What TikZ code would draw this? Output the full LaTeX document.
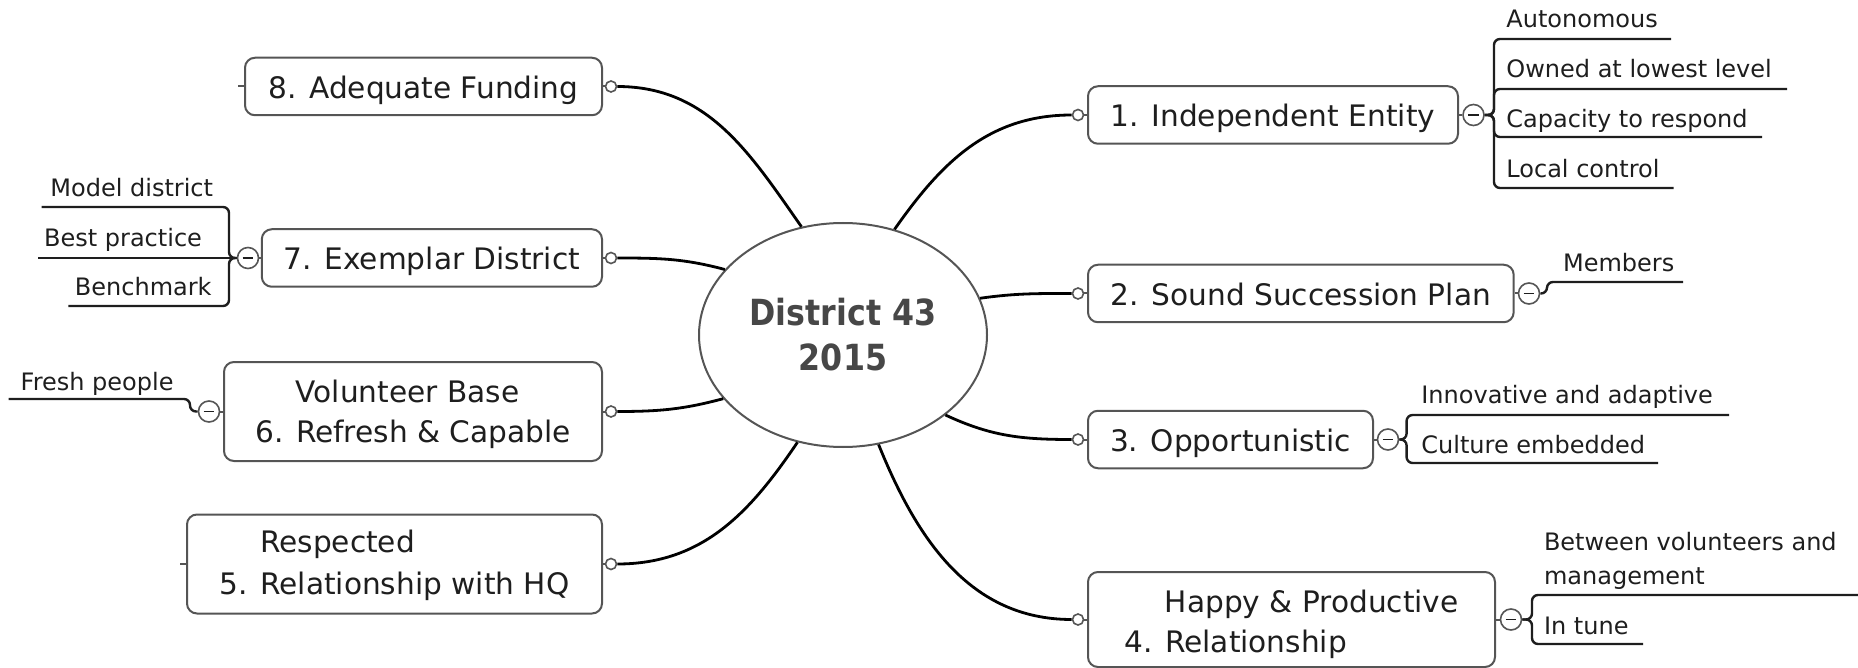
\documentclass[tikz,border=0pt]{standalone}
\usepackage{fontspec}
\setmainfont{DejaVu Sans}
\newfontfamily\hubfont{DejaVu Sans}[FakeStretch=0.88]
\usetikzlibrary{shapes.geometric}
\definecolor{ink}{HTML}{1E1E1E}
\definecolor{frame}{HTML}{555555}
\definecolor{hubtext}{HTML}{474747}

\begin{document}
\begin{tikzpicture}[x=0.5pt,y=0.5pt,
  conn/.style={line width=1.4pt, draw=black},
  sub/.style={line width=1.2pt, draw=ink, rounded corners=3pt},
  stub/.style={line width=1pt, draw=frame},
  mainbox/.style={draw=frame, line width=1pt, rounded corners=5pt, fill=white, text=ink,
     font=\fontsize{14.8pt}{20pt}\selectfont, inner xsep=11pt, inner ysep=0pt,
     minimum height=28.75pt, text height=12pt, text depth=0pt},
  twobox/.style={draw=frame, line width=1pt, rounded corners=5pt, fill=white, text=ink,
     font=\fontsize{14.8pt}{20pt}\selectfont, inner xsep=15.5pt, inner ysep=0pt,
     minimum height=49.5pt, align=left},
  knob/.style={circle, draw=frame, fill=white, line width=0.8pt, minimum size=5.5pt, inner sep=0pt},
  fold/.style={circle, draw=frame, fill=white, line width=0.8pt, minimum size=10.5pt, inner sep=0pt,
     path picture={\draw[line width=0.8pt, draw=ink]
       ([xshift=-2.7pt]path picture bounding box.center) -- ([xshift=2.7pt]path picture bounding box.center);}},
  leaf/.style={inner sep=0pt, text=ink, font=\fontsize{12pt}{17pt}\selectfont},
  hub/.style={ellipse, draw=frame, line width=1pt, fill=white, minimum width=144pt,
     minimum height=112pt, inner sep=0pt, align=center, text=hubtext,
     font=\hubfont\bfseries\fontsize{18pt}{22.5pt}\selectfont}
]
\useasboundingbox (0,0) rectangle (1858,-668);

% central topic
\node[hub] (hub) at (843,-335) {District 43\\2015};

% main branches, left side
\node[mainbox, anchor=east, minimum width=178.5pt] (n8) at (603,-86.5) {8. Adequate Funding};
\node[mainbox, anchor=east, minimum width=169.5pt] (n7) at (603,-258) {7. Exemplar District};
\node[twobox, anchor=east, minimum width=189pt] (n6) at (603,-411.5)
  {\hspace*{20.25pt}\rule{0pt}{13.75pt}Volunteer Base\\6. Refresh \& Capable};
\node[twobox, anchor=east, minimum width=207.5pt, font=\fontsize{14.8pt}{21pt}\selectfont] (n5) at (603,-564)
  {\hspace*{20.25pt}\rule{0pt}{13pt}Respected\\5. Relationship with HQ};

% main branches, right side
\node[mainbox, anchor=west, minimum width=185pt] (n1) at (1087,-115) {1. Independent Entity};
\node[mainbox, anchor=west, minimum width=212.85pt] (n2) at (1087,-293.5) {2. Sound Succession Plan};
\node[mainbox, anchor=west, minimum width=142.5pt] (n3) at (1087,-439.5) {3. Opportunistic};
\node[twobox, anchor=west, minimum width=203.5pt, minimum height=47.5pt] (n4) at (1087,-619.5)
  {\hspace*{20.25pt}\rule{0pt}{16.25pt}Happy \& Productive\\4. Relationship};

% attachment knobs
\node[knob] (o8) at (611,-86.5) {};
\node[knob] (o7) at (611,-258) {};
\node[knob] (o6) at (611,-411.5) {};
\node[knob] (o5) at (611,-564) {};
\node[knob] (o1) at (1078,-115) {};
\node[knob] (o2) at (1078,-293.5) {};
\node[knob] (o3) at (1078,-439.5) {};
\node[knob] (o4) at (1078,-619.5) {};

% collapse markers
\node[fold] (m1) at (1473.5,-115) {};
\node[fold] (m2) at (1529,-293.5) {};
\node[fold] (m3) at (1388,-439.5) {};
\node[fold] (m4) at (1511,-619.5) {};
\node[fold] (m7) at (248,-258) {};
\node[fold] (m6) at (209,-411.5) {};

% sub-topics
\node[leaf, anchor=base west] (c1a) at (1506,-28) {Autonomous};
\node[leaf, anchor=base west] (c1b) at (1506,-78) {Owned at lowest level};
\node[leaf, anchor=base west] (c1c) at (1506,-128) {Capacity to respond};
\node[leaf, anchor=base west] (c1d) at (1506,-178) {Local control};
\node[leaf, anchor=base west] (c2a) at (1562.7,-271) {Members};
\node[leaf, anchor=base west] (c3a) at (1421,-403) {Innovative and adaptive};
\node[leaf, anchor=base west] (c3b) at (1421,-453) {Culture embedded};
\node[leaf, anchor=south west, align=left] (c4a) at (1543.6,-590) {Between volunteers and\\management};
\node[leaf, anchor=base west] (c4b) at (1543.6,-634) {In tune};
\node[leaf, anchor=base east] (c7a) at (213.5,-197) {Model district};
\node[leaf, anchor=base east] (c7b) at (202.4,-247) {Best practice};
\node[leaf, anchor=base east] (c7c) at (212,-296) {Benchmark};
\node[leaf, anchor=base east] (c6a) at (174,-390) {Fresh people};

% bracket junctions and underline ends
\coordinate (j1) at (1494,-115);
\coordinate (j2) at (1547,-293.5);
\coordinate (j3) at (1406.6,-439.5);
\coordinate (j4) at (1532,-619.5);
\coordinate (j7) at (229,-258);
\coordinate (j6) at (190,-411.5);
\coordinate (e1a) at (1671,-39);
\coordinate (e1b) at (1787,-89);
\coordinate (e1c) at (1762,-137);
\coordinate (e1d) at (1673.5,-188);
\coordinate (e2a) at (1683,-282);
\coordinate (e3a) at (1729,-415);
\coordinate (e3b) at (1658,-463);
\coordinate (e4a) at (1858,-595);
\coordinate (e4b) at (1643,-644);
\coordinate (e7a) at (41.5,-207);
\coordinate (e7b) at (37.6,-258);
\coordinate (e7c) at (68.4,-306);
\coordinate (e6a) at (8.7,-399);

% connectors from the central topic
\draw[conn] (hub.111) to[out=125,in=0] (o8);
\draw[conn] (hub.64.5) to[out=55,in=180] (o1);
\draw[conn] (hub.151.5) to[out=165,in=0] (o7);
\draw[conn] (hub.15) to[out=8,in=180] (o2);
\draw[conn] (hub.208) to[out=195,in=0] (o6);
\draw[conn] (hub.-38) to[out=-25,in=180] (o3);
\draw[conn] (hub.247) to[out=236,in=0] (o5);
\draw[conn] (hub.288.6) to[out=292,in=180] (o4);

% short links from boxes to knobs and markers
\draw[stub] (n8.east) -- (o8);
\draw[stub] (n7.east) -- (o7);
\draw[stub] (n6.east) -- (o6);
\draw[stub] (n5.east) -- (o5);
\draw[stub] (n1.west) -- (o1);
\draw[stub] (n2.west) -- (o2);
\draw[stub] (n3.west) -- (o3);
\draw[stub] (n4.west) -- (o4);
\draw[stub] (n1.east) -- (m1);
\draw[stub] (n2.east) -- (m2);
\draw[stub] (n3.east) -- (m3);
\draw[stub] (n4.east) -- (m4);
\draw[stub] (n7.west) -- (m7);
\draw[stub] (n6.west) -- (m6);
\draw[stub] (n8.west) -- ++(-3pt,0);
\draw[stub] (n5.west) -- ++(-3pt,0);

% brackets and underlines of sub-topics
\draw[sub] (m1.east) -- (j1) |- (e1a);
\draw[sub] (m1.east) -- (j1) |- (e1b);
\draw[sub] (m1.east) -- (j1) |- (e1c);
\draw[sub] (m1.east) -- (j1) |- (e1d);
\draw[sub] (m2.east) -- (j2) |- (e2a);
\draw[sub] (m3.east) -- (j3) |- (e3a);
\draw[sub] (m3.east) -- (j3) |- (e3b);
\draw[sub] (m4.east) -- (j4) |- (e4a);
\draw[sub] (m4.east) -- (j4) |- (e4b);
\draw[sub] (m7.west) -- (j7) |- (e7a);
\draw[sub] (m7.west) -- (e7b);
\draw[sub] (m7.west) -- (j7) |- (e7c);
\draw[sub] (m6.west) -- (j6) |- (e6a);
\end{tikzpicture}
\end{document}
